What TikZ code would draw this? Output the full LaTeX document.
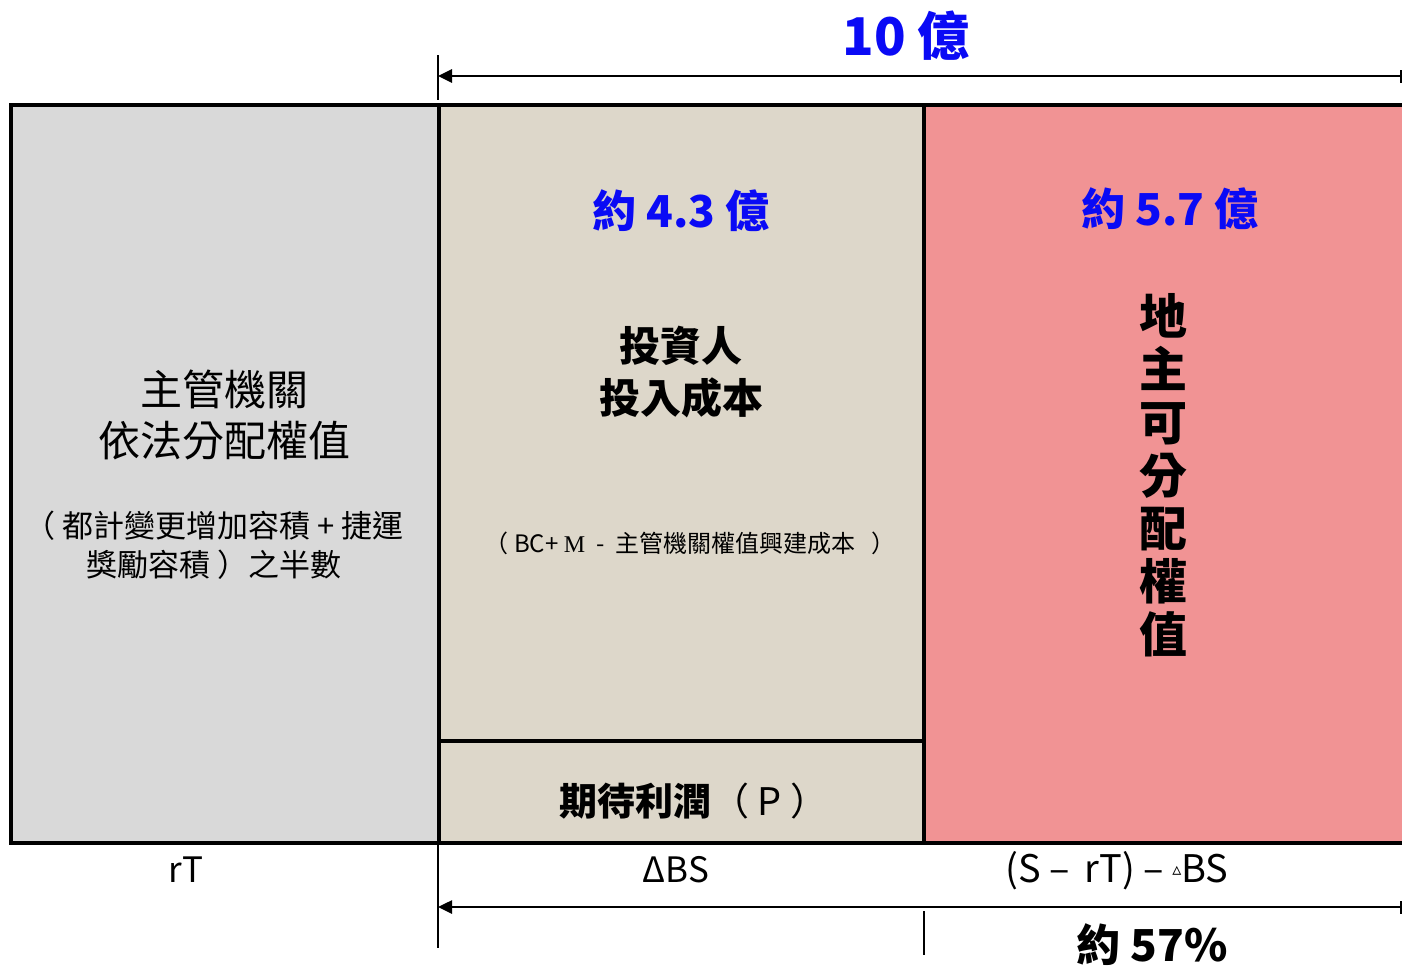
\documentclass[tikz,border=0pt]{standalone}
\usepackage{fontspec}
\setmainfont{Noto Sans CJK TC}
\newfontfamily\djv{DejaVu Sans}
\newfontfamily\tms{Liberation Serif}
\usetikzlibrary{arrows.meta}
\definecolor{boxgray}{HTML}{D9D9D9}
\definecolor{boxbeige}{HTML}{DDD7CA}
\definecolor{boxpink}{HTML}{F19394}
\definecolor{numblue}{HTML}{0A0AF5}
\tikzset{
  box/.style={draw=black, line width=4pt, rectangle, inner sep=0pt, outer sep=0pt},
  dim/.style={line width=2.6pt, -{Triangle[length=14pt,width=13pt]}},
  tick/.style={line width=1.5pt},
  lab/.style={inner sep=0pt, align=center},
  bluenum/.style={lab, text=numblue, font=\bfseries\fontsize{44}{50}\selectfont},
}
\begin{document}
\begin{tikzpicture}[x=1pt,y=-1pt]
\clip (0,0) rectangle (1402,969);
\fill[white] (0,0) rectangle (1402,969);
% boxes
\node[box, fill=boxgray, minimum width=428pt, minimum height=738pt] (gray) at (225,474) {};
\node[box, fill=boxbeige, minimum width=485pt, minimum height=636pt] (inv) at (681.5,423) {};
\node[box, fill=boxbeige, minimum width=485pt, minimum height=102pt] (prof) at (681.5,792) {};
\node[box, fill=boxpink, minimum width=500pt, minimum height=738pt] (land) at (1174,474) {};
% top dimension
\coordinate (tl) at (438,76);
\coordinate (tr) at (1402,76);
\coordinate (tt1) at (438,55);
\coordinate (tt2) at (438,100);
\draw[dim] (tr) -- (tl);
\draw[tick] (tt1) -- (tt2);
\coordinate (tr1) at (1401,70);
\coordinate (tr2) at (1401,83);
\draw[tick] (tr1) -- (tr2);
% bottom dimension
\coordinate (bl) at (438,907);
\coordinate (br) at (1402,907);
\coordinate (bt1) at (438,845);
\coordinate (bt2) at (438,948);
\coordinate (bm1) at (924,911);
\coordinate (bm2) at (924,955);
\coordinate (br1) at (1401,901);
\coordinate (br2) at (1401,914);
\draw[dim] (br) -- (bl);
\draw[tick] (bt1) -- (bt2);
\draw[tick] (bm1) -- (bm2);
\draw[tick] (br1) -- (br2);
% texts
\node[lab, text=numblue, font=\bfseries\fontsize{52}{60}\selectfont] (ten) at (906,36) {10 億};
\node[bluenum] (v43) at (681,211) {約 4.3 億};
\node[bluenum] (v57) at (1170,209) {約 5.7 億};
\node[lab, font=\bfseries\fontsize{41}{52}\selectfont] (invt) at (681,372) {投資人\\投入成本};
\node[lab, font=\fontsize{42}{51}\selectfont] (grayt) at (224,415) {主管機關\\依法分配權值};
\node[lab, font=\fontsize{31}{39}\selectfont] (grays) at (214,545) {（ 都計變更增加容積 + 捷運\\獎勵容積 ）之半數};
\node[lab, font=\fontsize{24}{28}\selectfont] (invs) at (690,543) {（ BC+ {\tms M}\ \ -\ \ 主管機關權值興建成本\ \ \ ）};
\node[lab, font=\bfseries\fontsize{38}{44}\selectfont] (proft) at (694,801) {期待利潤{\mdseries （ P ）}};
\node[lab, font=\bfseries\fontsize{48}{53}\selectfont] (landt) at (1163,475) {地\\主\\可\\分\\配\\權\\值};
\node[lab, font=\fontsize{35}{40}\selectfont] (rt) at (186,870) {rT};
\node[lab, font=\fontsize{35}{40}\selectfont] (dbs) at (676,870) {ΔBS};
\node[lab, font=\fontsize{38}{40}\selectfont] (rest) at (1117,871) {(S –\, rT) – \raisebox{7pt}{\djv\fontsize{18}{20}\selectfont ▵}BS};
\node[lab, font=\bfseries\fontsize{44}{50}\selectfont] (pct) at (1152,945) {約 57\%};
\end{tikzpicture}
\end{document}
